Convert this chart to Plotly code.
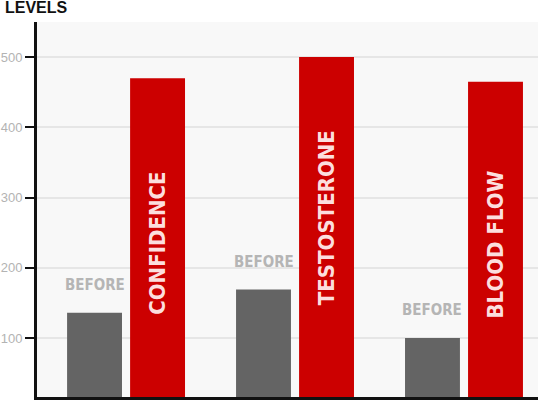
import plotly.graph_objects as go

# ---- data ----
categories = ["Confidence", "Testosterone", "Blood Flow"]
before_values = [136, 169, 100]
after_values = [470, 500, 465]
after_labels = ["CONFIDENCE", "TESTOSTERONE", "BLOOD FLOW"]
before_label = "BEFORE"
tick_values = [100, 200, 300, 400, 500]
title_text = "LEVELS"

# ---- style / layout constants ----
GRAY = "#646464"
RED = "#cc0000"
LABEL_GRAY = "#b5b5b5"
LABEL_PINK = "#fcdede"
COND = "Liberation Sans Narrow, DejaVu Sans Condensed, Arial Narrow, sans-serif"
BAR_W = 0.325
BEFORE_OFF = -0.349
AFTER_OFF = 0.024
AFTER_LABEL_YSHIFT = [0, 15, 0]
PX_PER_CAT = 169

fig = go.Figure()
fig.add_trace(go.Bar(x=categories, y=before_values, width=BAR_W, offset=BEFORE_OFF,
                     marker=dict(color=GRAY, line=dict(width=0)), hoverinfo="skip"))
fig.add_trace(go.Bar(x=categories, y=after_values, width=BAR_W, offset=AFTER_OFF,
                     marker=dict(color=RED, line=dict(width=0)), hoverinfo="skip"))

annotations = []
for i, c in enumerate(categories):
    annotations.append(dict(
        x=c, y=before_values[i], xref="x", yref="y",
        text=before_label, showarrow=False, yanchor="bottom", xanchor="center",
        xshift=(BEFORE_OFF + BAR_W / 2) * PX_PER_CAT, yshift=17,
        font=dict(family=COND, size=15, color=LABEL_GRAY, weight="bold"),
    ))
    annotations.append(dict(
        x=c, y=after_values[i] / 2, xref="x", yref="y",
        text=after_labels[i], showarrow=False, textangle=-90,
        xanchor="center", yanchor="middle",
        xshift=(AFTER_OFF + BAR_W / 2) * PX_PER_CAT, yshift=AFTER_LABEL_YSHIFT[i],
        font=dict(family=COND, size=22, color=LABEL_PINK, weight="bold"),
    ))
annotations.append(dict(
    x=-34 / 501, y=1.0387, xref="paper", yref="paper", text=title_text,
    showarrow=False, xanchor="left", yanchor="middle",
    font=dict(family="Liberation Sans, Arial, sans-serif", size=16, color="#111111", weight="bold"),
))

fig.update_layout(
    width=546, height=400,
    margin=dict(l=37, r=8, t=22, b=3, autoexpand=False),
    paper_bgcolor="white", plot_bgcolor="#f8f8f8",
    showlegend=False, barmode="overlay",
    annotations=annotations,
    xaxis=dict(range=[-0.527, 2.438], showticklabels=False, ticks="", showgrid=False,
               zeroline=False, showline=True, linecolor="#111111", linewidth=3,
               automargin=False),
    yaxis=dict(range=[16, 550], tickvals=tick_values, ticks="outside", ticklen=9,
               tickwidth=2, tickcolor="#111111", showgrid=True, gridcolor="#e6e6e6",
               gridwidth=1.5, zeroline=False, showline=True, linecolor="#111111",
               linewidth=3, automargin=False,
               tickfont=dict(family="Liberation Sans, Arial, sans-serif",
                             size=13, color="#b3b3b3")),
)

fig.write_html("out.html", config={"displayModeBar": False},
               post_script="document.body.style.margin='0px';")
